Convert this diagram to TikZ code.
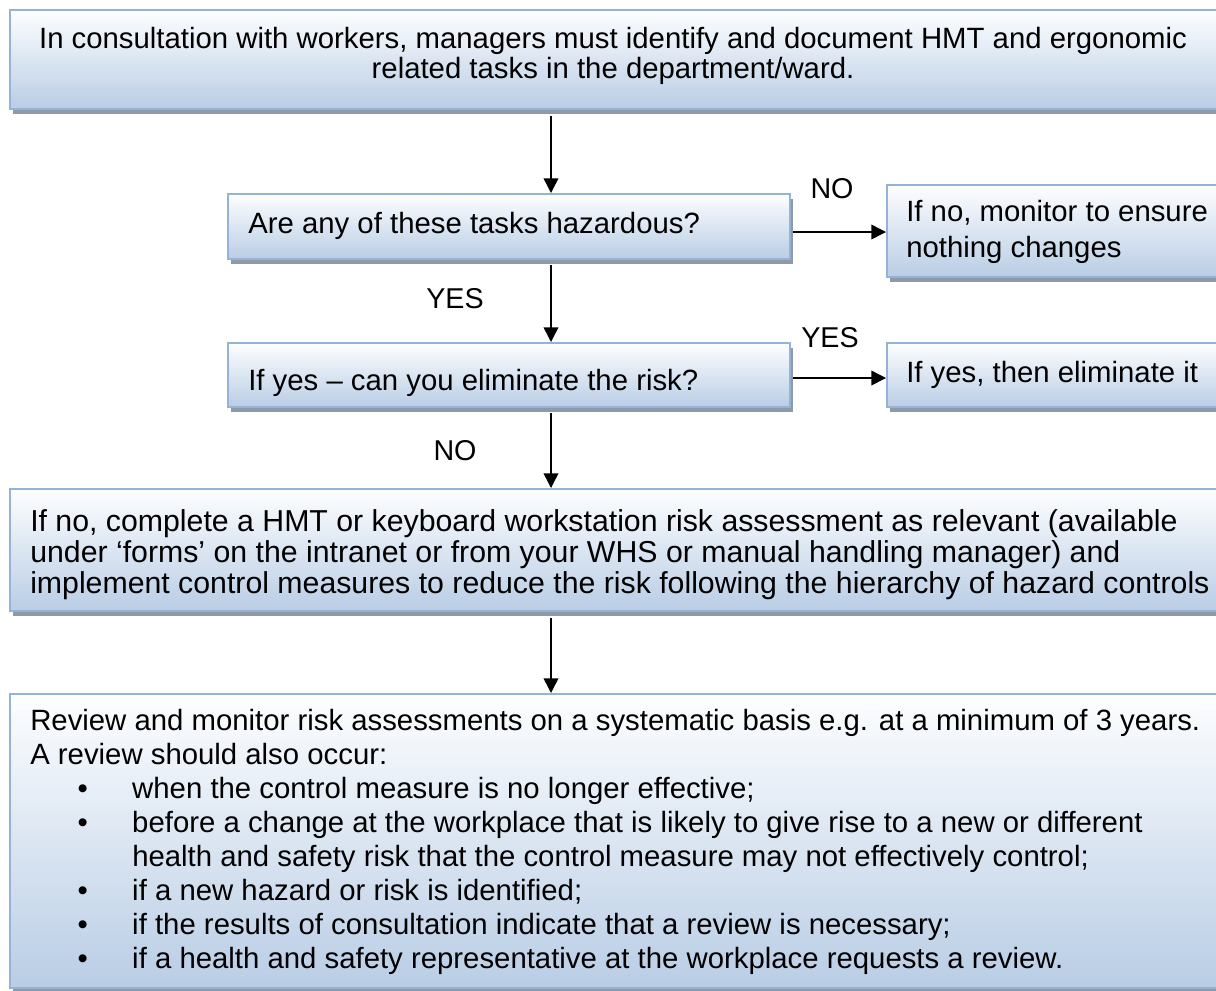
\documentclass[tikz,border=0pt]{standalone}
\usepackage{fontspec}
\setmainfont{Liberation Sans}
\usetikzlibrary{arrows.meta,fit,shadows}
\definecolor{boxtop}{HTML}{FDFEFF}
\definecolor{boxbottom}{HTML}{B9CDE5}
\definecolor{boxedge}{HTML}{95B3D7}
\definecolor{boxshadow}{HTML}{8E9AA8}
\begin{document}
\begin{tikzpicture}[x=0.75pt,y=-0.75pt,
  stepbox/.style={draw=boxedge, line width=1.5pt, top color=boxtop, bottom color=boxbottom,
    inner sep=0pt, drop shadow={shadow xshift=2.25pt, shadow yshift=-3.75pt, fill=boxshadow, opacity=1}},
  txt/.style={inner sep=0pt, font=\fontsize{22}{22.5}\selectfont, align=left, anchor=base west},
  lbl/.style={inner sep=0pt, font=\fontsize{21.5}{22.5}\selectfont, anchor=base},
  flow/.style={line width=1.1pt, -{Triangle[width=11pt,length=11pt]}}]
\useasboundingbox (0,0) rectangle (1216,990);
\begin{scope}
\clip (0,0) rectangle (1216,990);
% boxes of the flow chart
\node[stepbox, fit={(10,10) (1222,109)}] (b1) {};
\node[stepbox, fit={(228,194) (790,259)}] (b2) {};
\node[stepbox, fit={(887,185) (1222,277)}] (b3) {};
\node[stepbox, fit={(228,343) (790,407)}] (b4) {};
\node[stepbox, fit={(887,343) (1222,407)}] (b5) {};
\node[stepbox, fit={(10,489) (1222,611)}] (b6) {};
\node[stepbox, fit={(10,694) (1222,988)}] (b7) {};
\end{scope}

% texts inside the boxes (multi-line texts are placed by the baseline of their last line)
\node[txt, align=center, anchor=base] (t1) at (613,78)
  {In consultation with workers, managers must identify and document HMT and ergonomic\\
   related tasks in the department/ward.};
\node[txt] (t2) at (248,233) {Are any of these tasks hazardous?};
\node[txt, font=\fontsize{22}{27}\selectfont] (t3) at (906,257)
  {If no, monitor to ensure\\nothing changes};
\node[txt] (t4) at (248,390) {If yes – can you eliminate the risk?};
\node[txt] (t5) at (906,382) {If yes, then eliminate it};
\node[txt, font=\fontsize{22.7}{22.9}\selectfont] (t6) at (30,593)
  {If no, complete a HMT or keyboard workstation risk assessment as relevant (available\\
   under ‘forms’ on the intranet or from your WHS or manual handling manager) and\\
   implement control measures to reduce the risk following the hierarchy of hazard controls};
\node[txt, font=\fontsize{22}{25.5}\selectfont] (t7) at (30,968)
  {Review and monitor risk assessments on a systematic basis e.g. at a minimum of 3 years.\\
   A review should also occur:\\
   \hspace*{35.5pt}\makebox[41pt][l]{\textbullet}when the control measure is no longer effective;\\
   \hspace*{35.5pt}\makebox[41pt][l]{\textbullet}before a change at the workplace that is likely to give rise to a new or different\\
   \hspace*{76.5pt}health and safety risk that the control measure may not effectively control;\\
   \hspace*{35.5pt}\makebox[41pt][l]{\textbullet}if a new hazard or risk is identified;\\
   \hspace*{35.5pt}\makebox[41pt][l]{\textbullet}if the results of consultation indicate that a review is necessary;\\
   \hspace*{35.5pt}\makebox[41pt][l]{\textbullet}if a health and safety representative at the workplace requests a review.};

% connectors
\coordinate (ax) at (551,0);
\draw[flow, shorten <=4.5pt] (b1.south -| ax) -- (b2.north -| ax);
\draw[flow, shorten <=3.75pt] (b2.south -| ax) -- (b4.north -| ax);
\draw[flow, shorten <=3.75pt] (b4.south -| ax) -- (b6.north -| ax);
\draw[flow, shorten <=4.5pt] (b6.south -| ax) -- (b7.north -| ax);
\coordinate (hy1) at (0,232);
\coordinate (hy2) at (0,378);
\draw[flow, shorten <=1.5pt] (b2.east |- hy1) -- (b3.west |- hy1);
\draw[flow, shorten <=1.5pt] (b4.east |- hy2) -- (b5.west |- hy2);

% branch labels
\node[lbl] (no1) at (832,198) {NO};
\node[lbl] (yes1) at (455,308) {YES};
\node[lbl] (yes2) at (830,347) {YES};
\node[lbl] (no2) at (455,460) {NO};
\end{tikzpicture}
\end{document}
